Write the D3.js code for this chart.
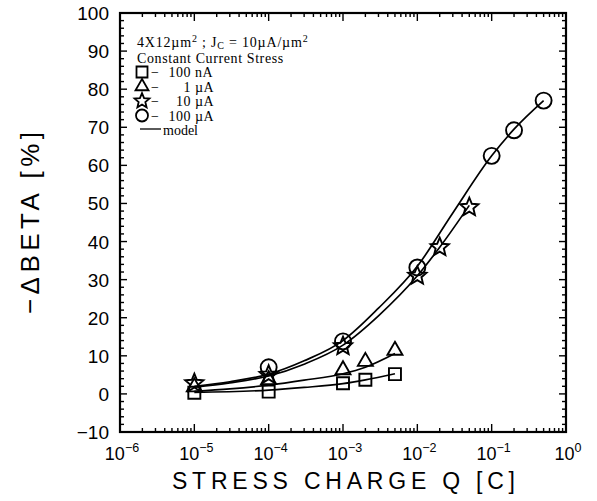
<!DOCTYPE html>
<html>
<head>
<meta charset="utf-8">
<script src="https://cdn.jsdelivr.net/npm/d3@7"></script>
<style>
  html, body { margin: 0; padding: 0; background: #fff; }
  svg { display: block; }
</style>
</head>
<body>
<svg id="chart" width="597" height="501"></svg>
<script>
// ---------------- data ----------------
const xTickExponents = [-6, -5, -4, -3, -2, -1, 0];
const yTickValues = [-10, 0, 10, 20, 30, 40, 50, 60, 70, 80, 90, 100];

// measured points
const q100nA = [1e-5, 1e-4, 1e-3, 2e-3, 5e-3];
const v100nA = [0.3, 0.6, 2.8, 3.7, 5.2];
const q1uA = [1e-5, 1e-4, 1e-3, 2e-3, 5e-3];
const v1uA = [1.8, 3.7, 6.3, 8.5, 11.4];
const q10uA = [1e-5, 1e-4, 1e-3, 1e-2, 2e-2, 5e-2];
const v10uA = [2.8, 5.0, 12.5, 31.0, 38.5, 49.0];
const q100uA = [1e-4, 1e-3, 1e-2, 1e-1, 2e-1, 5e-1];
const v100uA = [7.0, 13.8, 33.2, 62.5, 69.2, 77.0];

// model curves
const mq100nA = [1e-5, 1e-4, 3e-4, 1e-3, 2e-3, 5e-3];
const mv100nA = [0.4, 1.0, 1.7, 2.7, 3.7, 5.3];
const mq1uA = [1e-5, 3e-5, 1e-4, 3e-4, 1e-3, 2e-3, 5e-3];
const mv1uA = [0.7, 1.3, 2.3, 3.6, 5.3, 7.0, 10.6];
const mq10uA = [1e-5, 3e-5, 1e-4, 3e-4, 1e-3, 3e-3, 1e-2, 2e-2, 5e-2];
const mv10uA = [1.8, 2.9, 4.7, 7.8, 12.8, 20.5, 31.0, 38.5, 49.5];
const mq100uA = [1e-5, 3e-5, 1e-4, 3e-4, 1e-3, 3e-3, 1e-2, 3e-2, 1e-1, 2e-1, 5e-1];
const mv100uA = [2.0, 3.2, 5.2, 8.7, 14.0, 22.5, 33.5, 47.5, 62.5, 69.5, 77.0];

const legendLabels = [
  {sym: "square", num: "100", unit: "nA"},
  {sym: "triangle", num: "1", unit: "\u00B5A"},
  {sym: "star", num: "10", unit: "\u00B5A"},
  {sym: "circle", num: "100", unit: "\u00B5A"}
];

// ---------------- chart ----------------
const svg = d3.select("#chart");
const L = 120, R = 566, T = 13, B = 432;
const x = d3.scaleLog().domain([1e-6, 1]).range([L, R]);
const y = d3.scaleLinear().domain([-10, 100]).range([B, T]);
const sans = "'Liberation Sans', Arial, Helvetica, sans-serif";
const serif = "'Liberation Serif', 'Times New Roman', serif";

// ticks
const tickG = svg.append("g").attr("stroke", "#000").attr("stroke-width", 1.4);
d3.range(-10, 100.01, 2).forEach(v => {
  const major = Math.abs(v % 10) < 1e-9;
  const len = major ? 7 : 4;
  tickG.append("line").attr("x1", L).attr("x2", L + len).attr("y1", y(v)).attr("y2", y(v));
  tickG.append("line").attr("x1", R).attr("x2", R - len).attr("y1", y(v)).attr("y2", y(v));
});
x.ticks().forEach(t => {
  const e = Math.log10(t);
  const major = Math.abs(e - Math.round(e)) < 1e-9;
  const len = major ? 8 : 4;
  tickG.append("line").attr("x1", x(t)).attr("x2", x(t)).attr("y1", B).attr("y2", B - len);
  tickG.append("line").attr("x1", x(t)).attr("x2", x(t)).attr("y1", T).attr("y2", T + len);
});

// frame
svg.append("rect").attr("x", L).attr("y", T).attr("width", R - L).attr("height", B - T)
  .attr("fill", "none").attr("stroke", "#000").attr("stroke-width", 2.2);

// y tick labels
svg.append("g").selectAll("text").data(yTickValues).join("text")
  .attr("x", L - 11).attr("y", d => y(d) + 7)
  .attr("text-anchor", "end").attr("font-family", sans).attr("font-size", 19)
  .text(d => d < 0 ? "\u2212" + Math.abs(d) : d);

// x tick labels
const xl = svg.append("g").selectAll("text").data(xTickExponents).join("text")
  .attr("x", d => x(Math.pow(10, d)) + 2).attr("y", 460)
  .attr("text-anchor", "middle").attr("font-family", sans).attr("font-size", 18);
xl.append("tspan").text("10");
xl.append("tspan").attr("font-size", 12.5).attr("dy", -8)
  .text(d => d < 0 ? "\u2212" + Math.abs(d) : d);

// axis titles
svg.append("text").attr("x", 172).attr("y", 489)
  .attr("font-family", sans).attr("font-size", 23)
  .attr("textLength", 343).attr("lengthAdjust", "spacing")
  .text("STRESS CHARGE Q [C]");
svg.append("text").attr("transform", "translate(39,314) rotate(-90)")
  .attr("x", 0).attr("y", 0)
  .attr("font-family", sans).attr("font-size", 26)
  .attr("textLength", 182).attr("lengthAdjust", "spacing")
  .text("\u2212\u0394BETA [%]");

// model lines
const line = d3.line().x(d => x(d[0])).y(d => y(d[1])).curve(d3.curveMonotoneX);
const models = [[mq100nA, mv100nA], [mq1uA, mv1uA], [mq10uA, mv10uA], [mq100uA, mv100uA]];
svg.append("g").selectAll("path").data(models).join("path")
  .attr("d", m => line(d3.zip(m[0], m[1])))
  .attr("fill", "none").attr("stroke", "#000").attr("stroke-width", 1.7);

// marker shapes
function starPath(ro, ri) {
  let p = "";
  for (let i = 0; i < 10; i++) {
    const r = i % 2 === 0 ? ro : ri;
    const a = -Math.PI / 2 + i * Math.PI / 5;
    p += (i === 0 ? "M" : "L") + (r * Math.cos(a)).toFixed(2) + "," + (r * Math.sin(a)).toFixed(2);
  }
  return p + "Z";
}
const shapes = {
  square: s => `M${-s/2},${-s/2}h${s}v${s}h${-s}Z`,
  triangle: s => { const h = s * Math.sqrt(3) / 2; return `M0,${-h*2/3}L${s/2},${h/3}L${-s/2},${h/3}Z`; },
  star: s => starPath(s * 0.6, s * 0.27),
  circle: s => `M${s/2},0A${s/2},${s/2} 0 1,1 ${-s/2},0A${s/2},${s/2} 0 1,1 ${s/2},0Z`
};
const sizes = {square: 12, triangle: 15, star: 16, circle: 16};

const series = [
  {sym: "square", q: q100nA, v: v100nA},
  {sym: "triangle", q: q1uA, v: v1uA},
  {sym: "star", q: q10uA, v: v10uA},
  {sym: "circle", q: q100uA, v: v100uA}
];
series.forEach(s => {
  svg.append("g").selectAll("path").data(d3.zip(s.q, s.v)).join("path")
    .attr("transform", d => `translate(${x(d[0])},${y(d[1])})`)
    .attr("d", shapes[s.sym](sizes[s.sym]))
    .attr("fill", "none").attr("stroke", "#000").attr("stroke-width", 1.9);
});

// legend
const lg = svg.append("g").attr("font-family", serif).attr("font-size", 14).attr("fill", "#000");
const t1 = lg.append("text").attr("x", 137).attr("y", 47).attr("letter-spacing", 0.8);
t1.append("tspan").text("4X12\u00B5m");
t1.append("tspan").attr("font-size", 10).attr("dy", -5).text("2");
t1.append("tspan").attr("dy", 5).text(" ; J");
t1.append("tspan").attr("font-size", 10).attr("dy", 2).text("C");
t1.append("tspan").attr("dy", -2).text(" = 10\u00B5A/\u00B5m");
t1.append("tspan").attr("font-size", 10).attr("dy", -5).text("2");
lg.append("text").attr("x", 137).attr("y", 62.5).attr("letter-spacing", 0.6).text("Constant Current Stress");

const legY = [77, 91.5, 106, 120.5];
legendLabels.forEach((d, i) => {
  const yy = legY[i];
  lg.append("path").attr("transform", `translate(142,${yy - 5})`)
    .attr("d", shapes[d.sym](d.sym === "square" ? 11 : d.sym === "circle" ? 12 : 13))
    .attr("fill", "none").attr("stroke", "#000").attr("stroke-width", 1.8);
  lg.append("text").attr("x", 151).attr("y", yy).text("\u2212");
  lg.append("text").attr("x", 191).attr("y", yy).attr("text-anchor", "end").attr("letter-spacing", 0.5).text(d.num);
  lg.append("text").attr("x", 195).attr("y", yy).attr("letter-spacing", 0.5).text(d.unit);
});
lg.append("line").attr("x1", 140).attr("x2", 161).attr("y1", 129).attr("y2", 129)
  .attr("stroke", "#000").attr("stroke-width", 1.3);
lg.append("text").attr("x", 163).attr("y", 134.5).text("model");
</script>
</body>
</html>
